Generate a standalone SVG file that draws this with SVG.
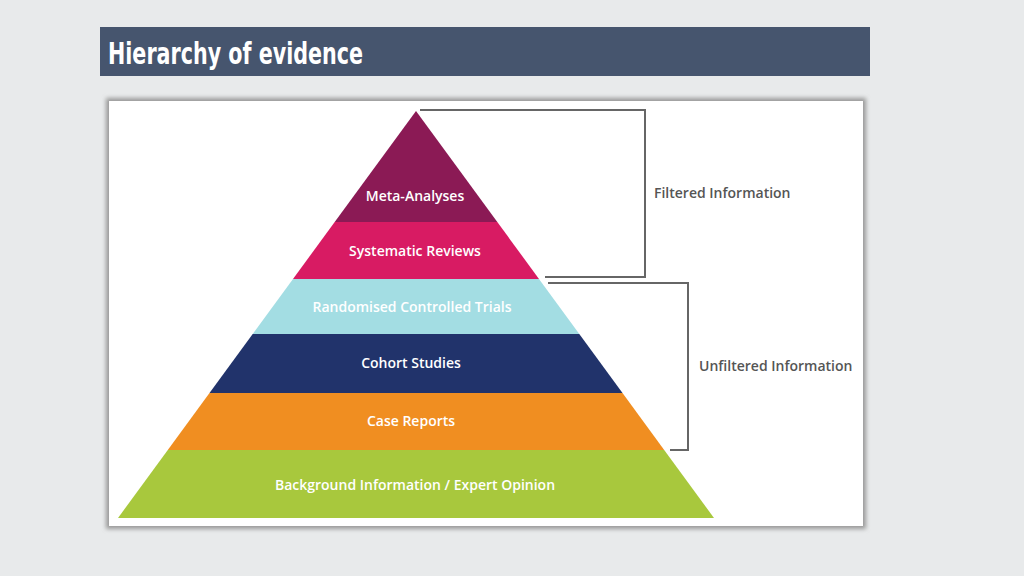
<svg xmlns="http://www.w3.org/2000/svg" width="1024" height="576" viewBox="0 0 1024 576">
<defs>
<style>
.l{font-family:"Open Sans","Noto Sans",sans-serif;font-size:14px;font-weight:600;text-anchor:middle;fill:#fff}
.s{font-family:"Open Sans","Noto Sans",sans-serif;font-size:14px;font-weight:600;fill:#555}
.b{fill:none;stroke:#666;stroke-width:2}
</style>
<filter id="sh" x="-5%" y="-5%" width="110%" height="110%"><feGaussianBlur stdDeviation="2"/></filter>
</defs>
<rect width="1024" height="576" fill="#e8eaeb"/>
<rect x="100" y="27" width="770" height="49" fill="#46556e"/>
<text x="108" y="64" font-family="DejaVu Sans Condensed,sans-serif" font-weight="bold" font-size="31" fill="#fff" textLength="255" lengthAdjust="spacingAndGlyphs">Hierarchy of evidence</text>
<rect x="106" y="98" width="760" height="431" fill="#999" filter="url(#sh)"/>
<rect x="109" y="101" width="754" height="425" fill="#fff"/>
<g id="meta"><polygon points="416,111 497.3,222 334.7,222" fill="#8b1a55"/><text class="l" x="415" y="201">Meta-Analyses</text></g>
<g id="systematic"><polygon points="334.7,222 497.3,222 539,279 293,279" fill="#d81b63"/><text class="l" x="415" y="256">Systematic Reviews</text></g>
<g id="rct"><polygon points="293,279 539,279 579.3,334 252.7,334" fill="#a3dde3"/><text class="l" x="412" y="312">Randomised Controlled Trials</text></g>
<g id="cohort"><polygon points="252.7,334 579.3,334 622.5,393 209.5,393" fill="#21336b"/><text class="l" x="411" y="368">Cohort Studies</text></g>
<g id="case"><polygon points="209.5,393 622.5,393 664.2,450 167.8,450" fill="#f08e21"/><text class="l" x="411" y="426">Case Reports</text></g>
<g id="background"><polygon points="167.8,450 664.2,450 714,518 118,518" fill="#a8c83d"/><text class="l" x="415" y="490">Background Information / Expert Opinion</text></g>
<g id="connectors">
<polyline class="b" points="420,110 645,110 645,277 545,277"/>
<polyline class="b" points="548,283 688,283 688,450 670,450"/>
</g>
<g id="filtered"><text class="s" x="654" y="198">Filtered Information</text></g>
<g id="unfiltered"><text class="s" x="699" y="371">Unfiltered Information</text></g>
</svg>
